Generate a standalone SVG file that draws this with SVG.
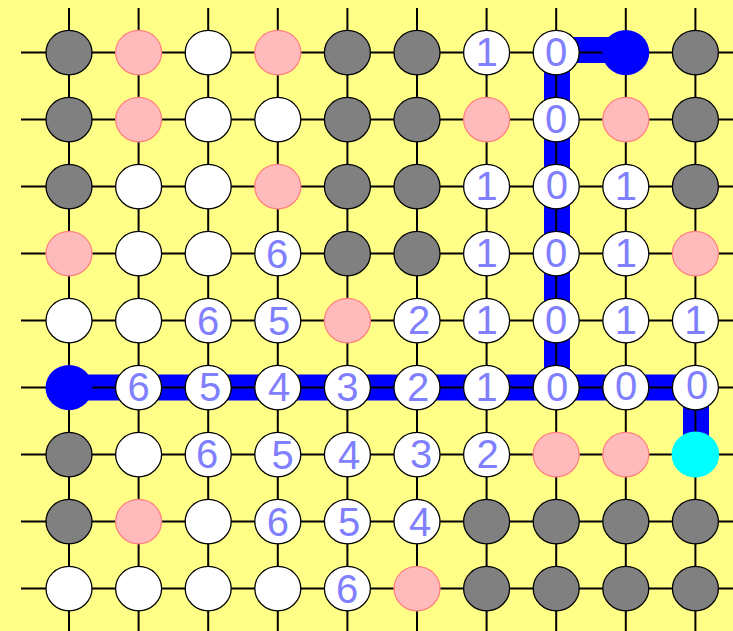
<svg xmlns="http://www.w3.org/2000/svg" width="733" height="631" viewBox="0 0 733 631">
<style>
.bg{fill:#ffff88}
.grid line{stroke:#000;stroke-width:2}
.path{fill:none;stroke:#0000ff;stroke-width:26}
ellipse{stroke-width:1.3}
.w{fill:#fff;stroke:#000}
.g{fill:#808080;stroke:#000}
.p{fill:#ffbbbb;stroke:#ff8080}
.b{fill:#0000ff;stroke:none}
.c{fill:#00ffff;stroke:none}
text{font-family:"Liberation Sans",Arial,sans-serif;font-size:40px;fill:#8080ff;text-anchor:middle}
</style>
<rect class="bg" x="0" y="0" width="733" height="631"/>
<g id="connectors">
<path class="path" d="M69 387.5 H557 V50 H626"/>
<path class="path" d="M557 387.5 H696 V455"/>
<g class="grid">
<line x1="69" y1="8" x2="69" y2="631"/>
<line x1="138.6" y1="8" x2="138.6" y2="631"/>
<line x1="208.2" y1="8" x2="208.2" y2="631"/>
<line x1="277.8" y1="8" x2="277.8" y2="631"/>
<line x1="347.4" y1="8" x2="347.4" y2="631"/>
<line x1="417" y1="8" x2="417" y2="631"/>
<line x1="486.6" y1="8" x2="486.6" y2="631"/>
<line x1="556.2" y1="8" x2="556.2" y2="631"/>
<line x1="625.8" y1="8" x2="625.8" y2="631"/>
<line x1="695.4" y1="8" x2="695.4" y2="631"/>
<line x1="21" y1="52.6" x2="733" y2="52.6"/>
<line x1="21" y1="119.6" x2="733" y2="119.6"/>
<line x1="21" y1="186.6" x2="733" y2="186.6"/>
<line x1="21" y1="253.6" x2="733" y2="253.6"/>
<line x1="21" y1="320.6" x2="733" y2="320.6"/>
<line x1="21" y1="387.6" x2="733" y2="387.6"/>
<line x1="21" y1="454.6" x2="733" y2="454.6"/>
<line x1="21" y1="521.6" x2="733" y2="521.6"/>
<line x1="21" y1="588.6" x2="733" y2="588.6"/>
</g>
</g>
<g id="nodes">
<!-- row 0 -->
<g id="n0_0"><ellipse class="g" cx="69" cy="52.6" rx="23" ry="22.2"/></g>
<g id="n0_1"><ellipse class="p" cx="138.6" cy="52.6" rx="23" ry="22.2"/></g>
<g id="n0_2"><ellipse class="w" cx="208.2" cy="52.6" rx="23" ry="22.2"/></g>
<g id="n0_3"><ellipse class="p" cx="277.8" cy="52.6" rx="23" ry="22.2"/></g>
<g id="n0_4"><ellipse class="g" cx="347.4" cy="52.6" rx="23" ry="22.2"/></g>
<g id="n0_5"><ellipse class="g" cx="417" cy="52.6" rx="23" ry="22.2"/></g>
<g id="n0_6"><ellipse class="w" cx="486.6" cy="52.6" rx="23" ry="22.2"/><text x="486.6" y="65.5">1</text></g>
<g id="n0_7"><ellipse class="w" cx="556.2" cy="52.6" rx="23" ry="22.2"/><text x="556.2" y="65.5">0</text></g>
<g id="n0_8"><ellipse class="b" cx="625.8" cy="52.6" rx="23.5" ry="22.6"/></g>
<g id="n0_9"><ellipse class="g" cx="695.4" cy="52.6" rx="23" ry="22.2"/></g>
<!-- row 1 -->
<g id="n1_0"><ellipse class="g" cx="69" cy="119.6" rx="23" ry="22.2"/></g>
<g id="n1_1"><ellipse class="p" cx="138.6" cy="119.6" rx="23" ry="22.2"/></g>
<g id="n1_2"><ellipse class="w" cx="208.2" cy="119.6" rx="23" ry="22.2"/></g>
<g id="n1_3"><ellipse class="w" cx="277.8" cy="119.6" rx="23" ry="22.2"/></g>
<g id="n1_4"><ellipse class="g" cx="347.4" cy="119.6" rx="23" ry="22.2"/></g>
<g id="n1_5"><ellipse class="g" cx="417" cy="119.6" rx="23" ry="22.2"/></g>
<g id="n1_6"><ellipse class="p" cx="486.6" cy="119.6" rx="23" ry="22.2"/></g>
<g id="n1_7"><ellipse class="w" cx="556.2" cy="119.6" rx="23" ry="22.2"/><text x="556.2" y="132.5">0</text></g>
<g id="n1_8"><ellipse class="p" cx="625.8" cy="119.6" rx="23" ry="22.2"/></g>
<g id="n1_9"><ellipse class="g" cx="695.4" cy="119.6" rx="23" ry="22.2"/></g>
<!-- row 2 -->
<g id="n2_0"><ellipse class="g" cx="69" cy="186.6" rx="23" ry="22.2"/></g>
<g id="n2_1"><ellipse class="w" cx="138.6" cy="186.6" rx="23" ry="22.2"/></g>
<g id="n2_2"><ellipse class="w" cx="208.2" cy="186.6" rx="23" ry="22.2"/></g>
<g id="n2_3"><ellipse class="p" cx="277.8" cy="186.6" rx="23" ry="22.2"/></g>
<g id="n2_4"><ellipse class="g" cx="347.4" cy="186.6" rx="23" ry="22.2"/></g>
<g id="n2_5"><ellipse class="g" cx="417" cy="186.6" rx="23" ry="22.2"/></g>
<g id="n2_6"><ellipse class="w" cx="486.6" cy="186.6" rx="23" ry="22.2"/><text x="486.6" y="200">1</text></g>
<g id="n2_7"><ellipse class="w" cx="556.2" cy="186.6" rx="23" ry="22.2"/><text x="556.8" y="199">0</text></g>
<g id="n2_8"><ellipse class="w" cx="625.8" cy="186.6" rx="23" ry="22.2"/><text x="625.8" y="200">1</text></g>
<g id="n2_9"><ellipse class="g" cx="695.4" cy="186.6" rx="23" ry="22.2"/></g>
<!-- row 3 -->
<g id="n3_0"><ellipse class="p" cx="69" cy="253.6" rx="23" ry="22.2"/></g>
<g id="n3_1"><ellipse class="w" cx="138.6" cy="253.6" rx="23" ry="22.2"/></g>
<g id="n3_2"><ellipse class="w" cx="208.2" cy="253.6" rx="23" ry="22.2"/></g>
<g id="n3_3"><ellipse class="w" cx="277.8" cy="253.6" rx="23" ry="22.2"/><text x="277" y="268">6</text></g>
<g id="n3_4"><ellipse class="g" cx="347.4" cy="253.6" rx="23" ry="22.2"/></g>
<g id="n3_5"><ellipse class="g" cx="417" cy="253.6" rx="23" ry="22.2"/></g>
<g id="n3_6"><ellipse class="w" cx="486.6" cy="253.6" rx="23" ry="22.2"/><text x="486.6" y="267">1</text></g>
<g id="n3_7"><ellipse class="w" cx="556.2" cy="253.6" rx="23" ry="22.2"/><text x="556.2" y="267">0</text></g>
<g id="n3_8"><ellipse class="w" cx="625.8" cy="253.6" rx="23" ry="22.2"/><text x="625.8" y="267">1</text></g>
<g id="n3_9"><ellipse class="p" cx="695.4" cy="253.6" rx="23" ry="22.2"/></g>
<!-- row 4 -->
<g id="n4_0"><ellipse class="w" cx="69" cy="320.6" rx="23" ry="22.2"/></g>
<g id="n4_1"><ellipse class="w" cx="138.6" cy="320.6" rx="23" ry="22.2"/></g>
<g id="n4_2"><ellipse class="w" cx="208.2" cy="320.6" rx="23" ry="22.2"/><text x="208.2" y="335">6</text></g>
<g id="n4_3"><ellipse class="w" cx="277.8" cy="320.6" rx="23" ry="22.2"/><text x="279" y="335">5</text></g>
<g id="n4_4"><ellipse class="p" cx="347.4" cy="320.6" rx="23" ry="22.2"/></g>
<g id="n4_5"><ellipse class="w" cx="417" cy="320.6" rx="23" ry="22.2"/><text x="419" y="334">2</text></g>
<g id="n4_6"><ellipse class="w" cx="486.6" cy="320.6" rx="23" ry="22.2"/><text x="486.6" y="334">1</text></g>
<g id="n4_7"><ellipse class="w" cx="556.2" cy="320.6" rx="23" ry="22.2"/><text x="556.2" y="334">0</text></g>
<g id="n4_8"><ellipse class="w" cx="625.8" cy="320.6" rx="23" ry="22.2"/><text x="625.8" y="334">1</text></g>
<g id="n4_9"><ellipse class="w" cx="695.4" cy="320.6" rx="23" ry="22.2"/><text x="695.4" y="334">1</text></g>
<!-- row 5 -->
<g id="n5_0"><ellipse class="b" cx="69" cy="387.6" rx="23.5" ry="22.6"/></g>
<g id="n5_1"><ellipse class="w" cx="138.6" cy="387.6" rx="23" ry="22.2"/><text x="138.6" y="401">6</text></g>
<g id="n5_2"><ellipse class="w" cx="208.2" cy="387.6" rx="23" ry="22.2"/><text x="210" y="401">5</text></g>
<g id="n5_3"><ellipse class="w" cx="277.8" cy="387.6" rx="23" ry="22.2"/><text x="279" y="401">4</text></g>
<g id="n5_4"><ellipse class="w" cx="347.4" cy="387.6" rx="23" ry="22.2"/><text x="347.4" y="401">3</text></g>
<g id="n5_5"><ellipse class="w" cx="417" cy="387.6" rx="23" ry="22.2"/><text x="418" y="401">2</text></g>
<g id="n5_6"><ellipse class="w" cx="486.6" cy="387.6" rx="23" ry="22.2"/><text x="486.6" y="401">1</text></g>
<g id="n5_7"><ellipse class="w" cx="556.2" cy="387.6" rx="23" ry="22.2"/><text x="557" y="401">0</text></g>
<g id="n5_8"><ellipse class="w" cx="625.8" cy="387.6" rx="23" ry="22.2"/><text x="626" y="400">0</text></g>
<g id="n5_9"><ellipse class="w" cx="695.4" cy="387.6" rx="23" ry="22.2"/><text x="697" y="399">0</text></g>
<!-- row 6 -->
<g id="n6_0"><ellipse class="g" cx="69" cy="454.6" rx="23" ry="22.2"/></g>
<g id="n6_1"><ellipse class="w" cx="138.6" cy="454.6" rx="23" ry="22.2"/></g>
<g id="n6_2"><ellipse class="w" cx="208.2" cy="454.6" rx="23" ry="22.2"/><text x="207" y="468">6</text></g>
<g id="n6_3"><ellipse class="w" cx="277.8" cy="454.6" rx="23" ry="22.2"/><text x="282.5" y="468.5">5</text></g>
<g id="n6_4"><ellipse class="w" cx="347.4" cy="454.6" rx="23" ry="22.2"/><text x="349" y="468.5">4</text></g>
<g id="n6_5"><ellipse class="w" cx="417" cy="454.6" rx="23" ry="22.2"/><text x="421" y="468">3</text></g>
<g id="n6_6"><ellipse class="w" cx="486.6" cy="454.6" rx="23" ry="22.2"/><text x="487.5" y="468">2</text></g>
<g id="n6_7"><ellipse class="p" cx="556.2" cy="454.6" rx="23" ry="22.2"/></g>
<g id="n6_8"><ellipse class="p" cx="625.8" cy="454.6" rx="23" ry="22.2"/></g>
<g id="n6_9"><ellipse class="c" cx="695.4" cy="454.6" rx="23.8" ry="23"/></g>
<!-- row 7 -->
<g id="n7_0"><ellipse class="g" cx="69" cy="521.6" rx="23" ry="22.2"/></g>
<g id="n7_1"><ellipse class="p" cx="138.6" cy="521.6" rx="23" ry="22.2"/></g>
<g id="n7_2"><ellipse class="w" cx="208.2" cy="521.6" rx="23" ry="22.2"/></g>
<g id="n7_3"><ellipse class="w" cx="277.8" cy="521.6" rx="23" ry="22.2"/><text x="277.8" y="536">6</text></g>
<g id="n7_4"><ellipse class="w" cx="347.4" cy="521.6" rx="23" ry="22.2"/><text x="349" y="536">5</text></g>
<g id="n7_5"><ellipse class="w" cx="417" cy="521.6" rx="23" ry="22.2"/><text x="420" y="536">4</text></g>
<g id="n7_6"><ellipse class="g" cx="486.6" cy="521.6" rx="23" ry="22.2"/></g>
<g id="n7_7"><ellipse class="g" cx="556.2" cy="521.6" rx="23" ry="22.2"/></g>
<g id="n7_8"><ellipse class="g" cx="625.8" cy="521.6" rx="23" ry="22.2"/></g>
<g id="n7_9"><ellipse class="g" cx="695.4" cy="521.6" rx="23" ry="22.2"/></g>
<!-- row 8 -->
<g id="n8_0"><ellipse class="w" cx="69" cy="588.6" rx="23" ry="22.2"/></g>
<g id="n8_1"><ellipse class="w" cx="138.6" cy="588.6" rx="23" ry="22.2"/></g>
<g id="n8_2"><ellipse class="w" cx="208.2" cy="588.6" rx="23" ry="22.2"/></g>
<g id="n8_3"><ellipse class="w" cx="277.8" cy="588.6" rx="23" ry="22.2"/></g>
<g id="n8_4"><ellipse class="w" cx="347.4" cy="588.6" rx="23" ry="22.2"/><text x="347" y="602.5">6</text></g>
<g id="n8_5"><ellipse class="p" cx="417" cy="588.6" rx="23" ry="22.2"/></g>
<g id="n8_6"><ellipse class="g" cx="486.6" cy="588.6" rx="23" ry="22.2"/></g>
<g id="n8_7"><ellipse class="g" cx="556.2" cy="588.6" rx="23" ry="22.2"/></g>
<g id="n8_8"><ellipse class="g" cx="625.8" cy="588.6" rx="23" ry="22.2"/></g>
<g id="n8_9"><ellipse class="g" cx="695.4" cy="588.6" rx="23" ry="22.2"/></g>
</g>
</svg>
